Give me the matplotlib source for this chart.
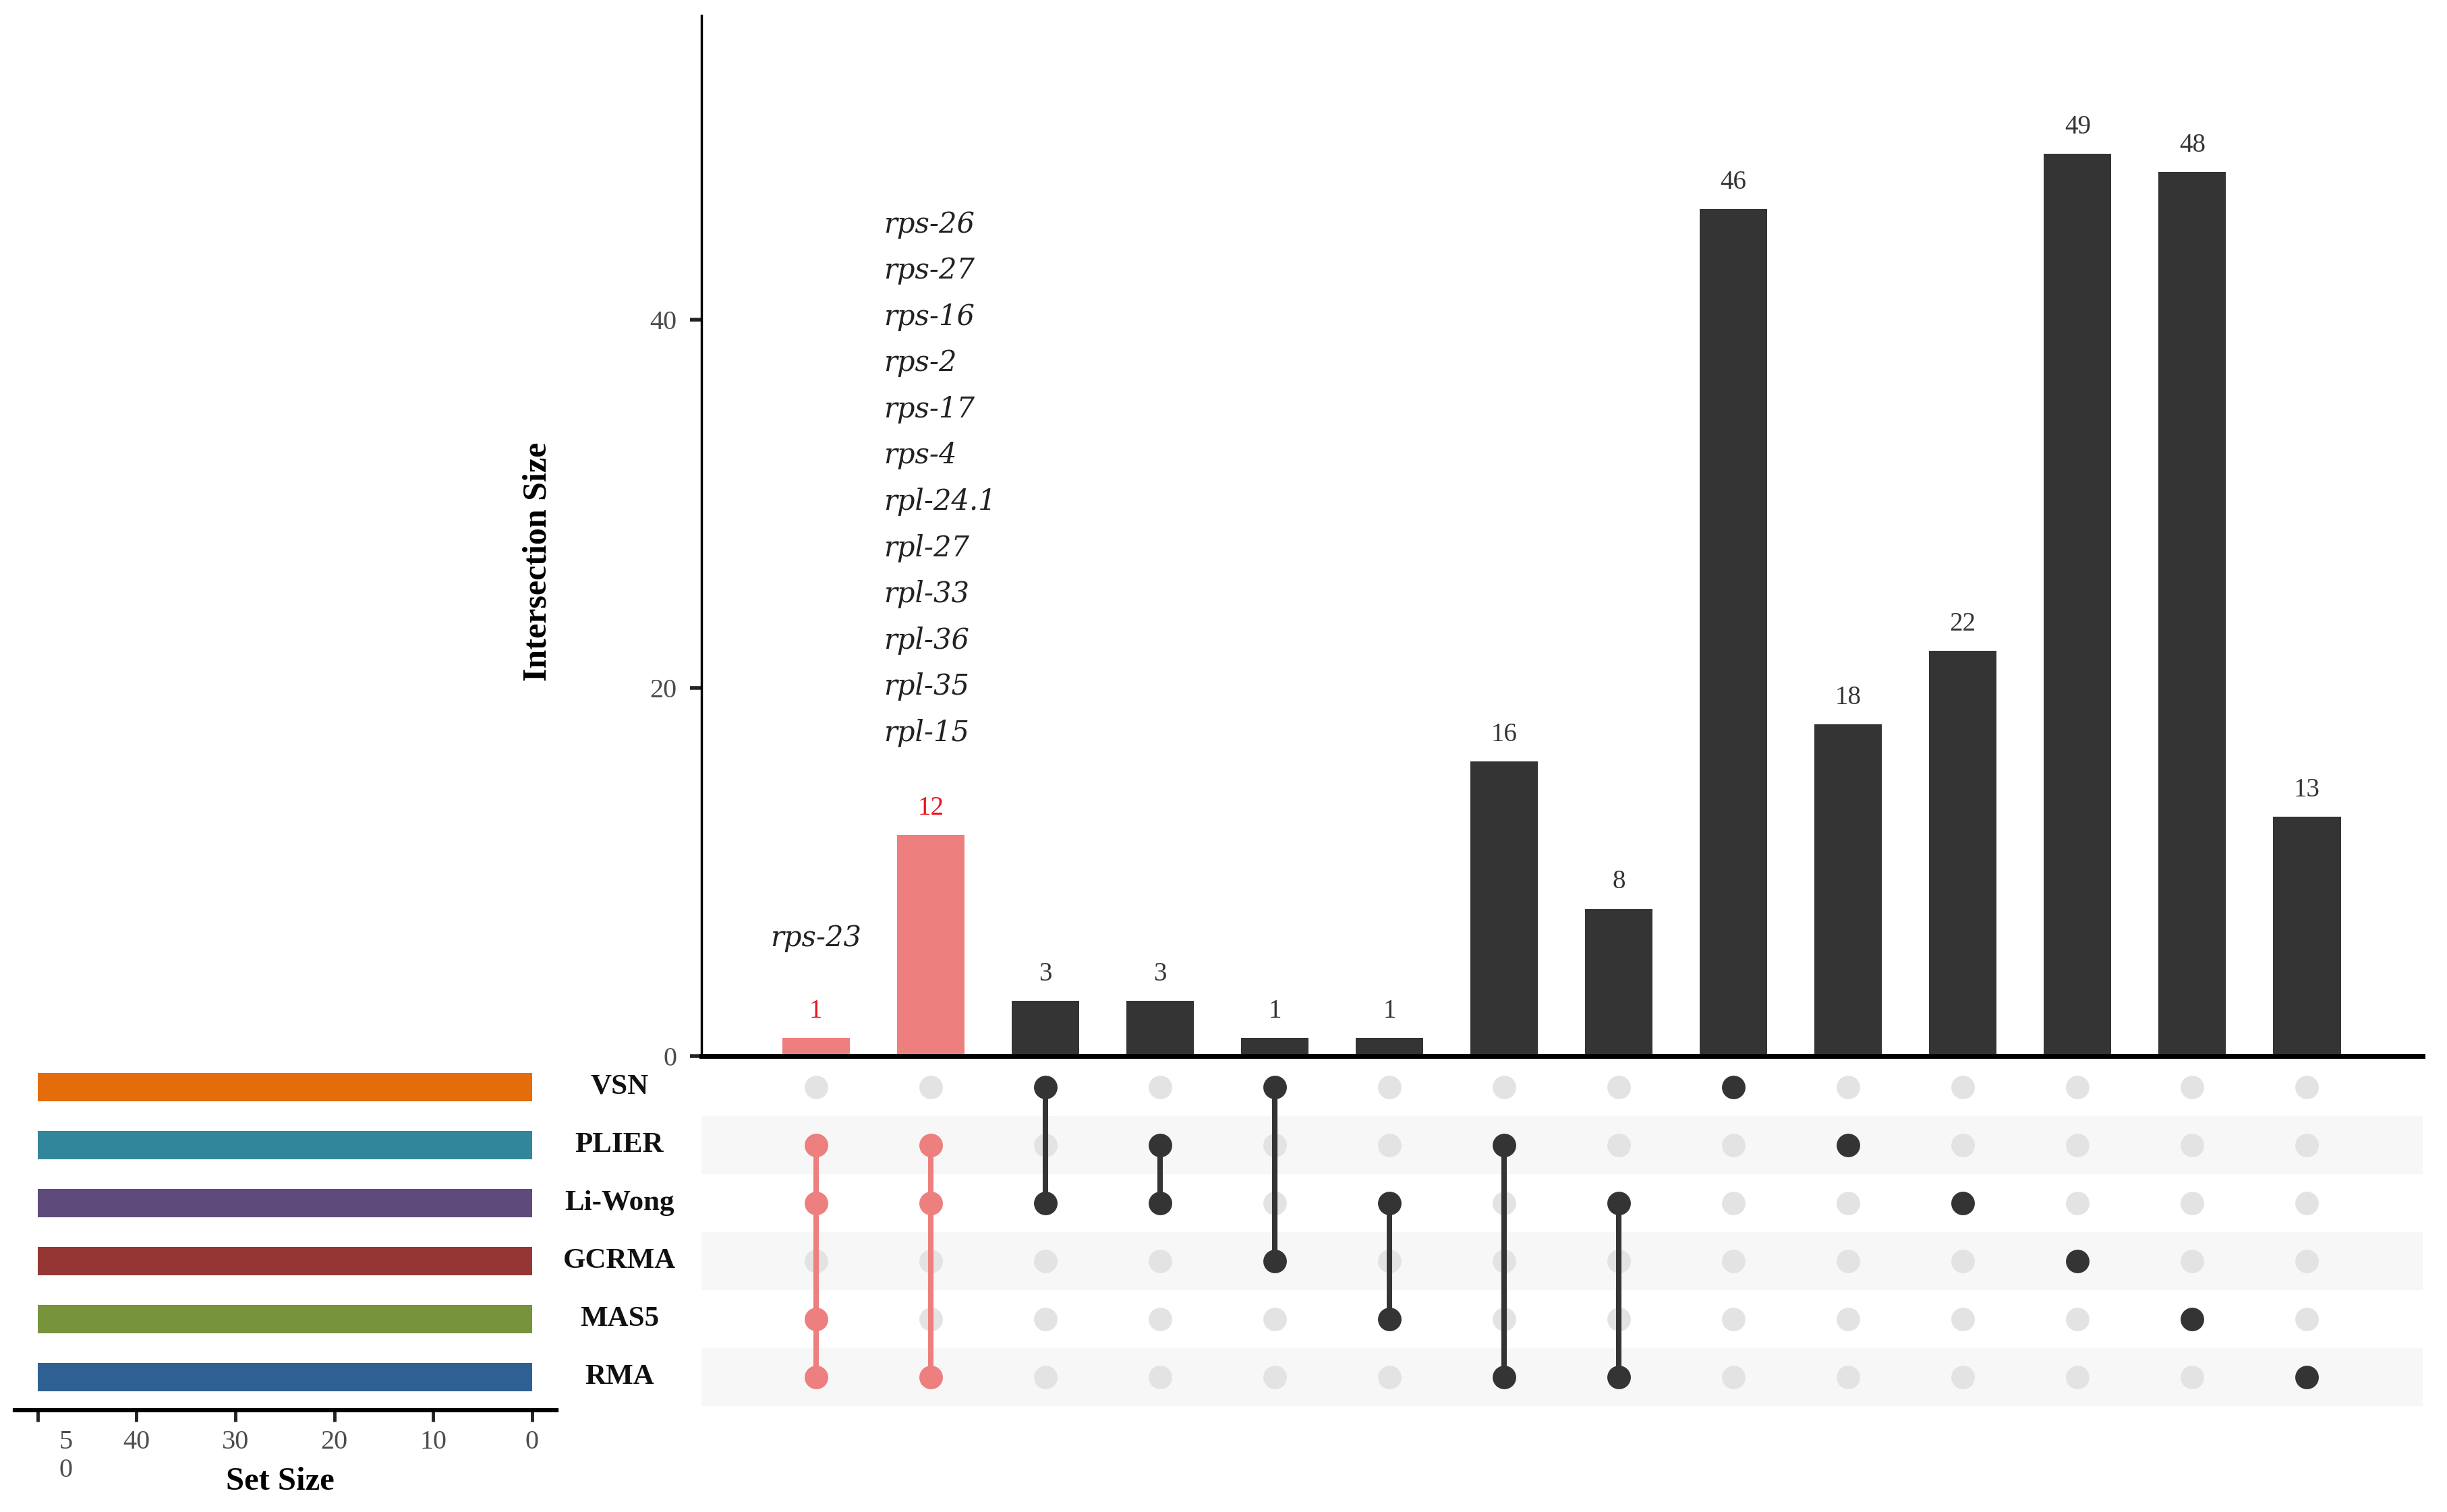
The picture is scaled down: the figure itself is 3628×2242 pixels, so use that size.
import matplotlib
matplotlib.use("Agg")
import matplotlib.pyplot as plt
import matplotlib.transforms as mtransforms
import numpy as np

# sets (rows of the matrix, top to bottom) and their bar colours
sets = ["VSN", "PLIER", "Li-Wong", "GCRMA", "MAS5", "RMA"]
set_colors = ["#E46C0A", "#31869B", "#5F4B7B", "#963634", "#77933C", "#2F6094"]

# intersections, left to right
counts = [1, 12, 3, 3, 1, 1, 16, 8, 46, 18, 22, 49, 48, 13]
members = [
    ["PLIER", "Li-Wong", "MAS5", "RMA"],
    ["PLIER", "Li-Wong", "RMA"],
    ["VSN", "Li-Wong"],
    ["PLIER", "Li-Wong"],
    ["VSN", "GCRMA"],
    ["Li-Wong", "MAS5"],
    ["PLIER", "RMA"],
    ["Li-Wong", "RMA"],
    ["VSN"],
    ["PLIER"],
    ["Li-Wong"],
    ["GCRMA"],
    ["MAS5"],
    ["RMA"],
]
highlight = [0, 1]

genes_a = ["rps-23"]
genes_b = ["rps-26", "rps-27", "rps-16", "rps-2", "rps-17", "rps-4",
           "rpl-24.1", "rpl-27", "rpl-33", "rpl-36", "rpl-35", "rpl-15"]

size_ticks = [0, 10, 20, 30, 40, 50]
size_labels = ["0", "10", "20", "30", "40", "5\n0"]
count_ticks = [0, 20, 40]

PINK = "#EE7F7F"
DARK = "#333433"
RED = "#E8141C"
EMPTY = "#E3E3E3"
BAND = "#F7F7F7"

plt.rcParams["font.family"] = ["Liberation Serif", "DejaVu Serif"]

set_sizes = [sum(c for c, m in zip(counts, members) if s in m) for s in sets]

fig = plt.figure(figsize=(36.28, 22.42), dpi=100)
ax_bar = fig.add_axes([0.2866, 0.3015, 0.7035, 0.6882])
ax_mat = fig.add_axes([0.2866, 0.0700, 0.7035, 0.2302])
ax_set = fig.add_axes([0.0061, 0.0700, 0.2213, 0.2302])

x = np.arange(len(counts))
xlim = (-1.0, 14.01)

# --- intersection size bars
bar_colors = [PINK if i in highlight else DARK for i in x]
ax_bar.bar(x, counts, width=0.59, color=bar_colors, zorder=2)
for i, c in enumerate(counts):
    ax_bar.text(i, c + 1.45, str(c), ha="center", va="center", fontsize=28,
                color=RED if i in highlight else DARK)

ax_bar.text(highlight[0], counts[highlight[0]] + 5.4, "\n".join(genes_a),
            ha="center", va="center", fontsize=30, style="italic",
            family="DejaVu Serif", color="#222222")
for k, g in enumerate(reversed(genes_b)):
    ax_bar.text(highlight[1] - 0.41, counts[highlight[1]] + 5.55 + k * 2.51, g,
                ha="left", va="center", fontsize=30, style="italic",
                family="DejaVu Serif", color="#222222")

ax_bar.set_xlim(*xlim)
ax_bar.set_ylim(0, 56.5)
ax_bar.set_xticks([])
ax_bar.set_yticks(count_ticks)
ax_bar.tick_params(axis="y", length=12, width=4, pad=14, labelsize=29,
                   color="#222222", labelcolor="#4D4D4D")
for side in ["top", "right"]:
    ax_bar.spines[side].set_visible(False)
ax_bar.spines["bottom"].set_linewidth(5)
ax_bar.spines["left"].set_linewidth(2.5)
ax_bar.spines["bottom"].set_zorder(3)
ax_bar.set_ylabel("Intersection Size", fontsize=36, fontweight="bold")
ax_bar.yaxis.set_label_coords(-0.086, 0.4755)

# --- matrix
ax_mat.set_xlim(*xlim)
ax_mat.set_ylim(len(sets) - 0.5, -0.5)
for r in range(1, len(sets), 2):
    ax_mat.axhspan(r - 0.5, r + 0.5, color=BAND, lw=0, zorder=0)
gx, gy = np.meshgrid(x, np.arange(len(sets)))
ax_mat.scatter(gx.ravel(), gy.ravel(), s=630, color=EMPTY, lw=0, zorder=2)
for i, m in enumerate(members):
    rows = sorted(sets.index(s) for s in m)
    col = PINK if i in highlight else DARK
    if len(rows) > 1:
        ax_mat.plot([i, i], [rows[0], rows[-1]], color=col, lw=5.8, zorder=3)
    ax_mat.scatter([i] * len(rows), rows, s=630, color=col, lw=0, zorder=4)
lab_tr = mtransforms.blended_transform_factory(ax_mat.transAxes, ax_mat.transData)
for r, s in enumerate(sets):
    ax_mat.text(-0.0475, r, s, transform=lab_tr, ha="center", va="center",
                fontsize=31, fontweight="bold", color="#111111")
ax_mat.axis("off")

# --- set size bars
ax_set.barh(np.arange(len(sets)), set_sizes, height=0.48, color=set_colors)
ax_set.set_ylim(len(sets) - 0.5, -0.5)
ax_set.set_xlim(52.3, -2.46)
for side in ["top", "right", "left"]:
    ax_set.spines[side].set_visible(False)
ax_set.spines["bottom"].set_position(("outward", 4))
ax_set.spines["bottom"].set_linewidth(4.5)
ax_set.set_yticks([])
ax_set.set_xticks(size_ticks)
ax_set.set_xticklabels(size_labels)
ax_set.tick_params(axis="x", length=12, width=3.5, pad=9, labelsize=29,
                   color="#222222", labelcolor="#4D4D4D")
ax_set.set_xlabel("Set Size", fontsize=35, fontweight="bold")
ax_set.xaxis.set_label_coords(0.49, -0.175)

# the wrapped "50" label sits to the right of its tick
for lbl in ax_set.get_xticklabels():
    if "\n" in lbl.get_text():
        lbl.set_transform(lbl.get_transform() +
                          mtransforms.ScaledTranslation(0.42, 0, fig.dpi_scale_trans))

fig.savefig("out.png", dpi=100)
